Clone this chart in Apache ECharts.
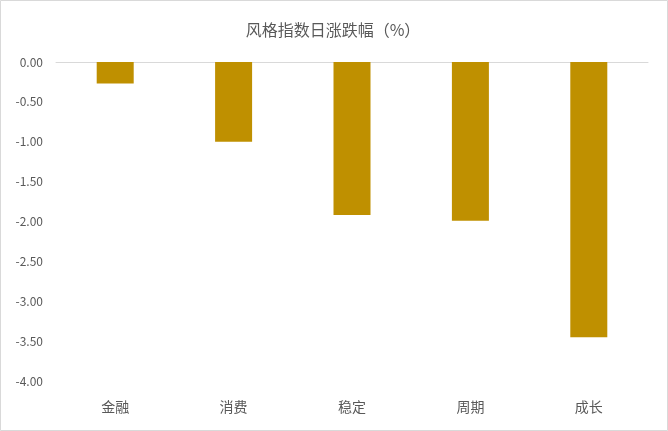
<!DOCTYPE html>
<html>
<head>
<meta charset="utf-8">
<script src="https://cdn.jsdelivr.net/npm/echarts@6/dist/echarts.min.js"></script>
<style>
html,body{margin:0;padding:0;background:#fff;}
#c{width:668px;height:431px;}
</style>
</head>
<body>
<div id="c"></div>
<script>
const titleText = '风格指数日涨跌幅（%）';
const categories = ['金融', '消费', '稳定', '周期', '成长'];
const values = [-0.27, -1.00, -1.92, -1.99, -3.45];
const yMin = -4, yMax = 0, yStep = 0.5;

const font = '"Noto Sans CJK SC", "Noto Sans", sans-serif';
const chart = echarts.init(document.getElementById('c'));
chart.setOption({
  animation: false,
  backgroundColor: '#ffffff',
  title: {
    text: titleText,
    left: 328,
    textAlign: 'center',
    top: 17,
    textStyle: {fontFamily: font, fontSize: 16, fontWeight: 'normal', color: '#595959'}
  },
  graphic: [{
    type: 'rect',
    shape: {x: 0.5, y: 0.5, width: 667, height: 430},
    style: {fill: 'none', stroke: '#d9d9d9', lineWidth: 1},
    silent: true
  }],
  grid: {left: 56, right: 20, top: 62, bottom: 50, containLabel: false},
  xAxis: [{
    type: 'category',
    data: categories,
    position: 'bottom',
    axisLine: {show: false, onZero: false},
    axisTick: {show: false},
    axisLabel: {fontFamily: font, fontSize: 14, color: '#595959', margin: 19}
  }, {
    type: 'category',
    data: categories,
    position: 'top',
    axisLine: {show: true, onZero: false, lineStyle: {color: '#d9d9d9', width: 1}},
    axisTick: {show: false},
    axisLabel: {show: false}
  }],
  yAxis: {
    type: 'value',
    min: yMin,
    max: yMax,
    interval: yStep,
    axisLine: {show: false},
    axisTick: {show: false},
    splitLine: {show: false},
    axisLabel: {
      fontFamily: font, fontSize: 12, color: '#595959', margin: 13,
      formatter: v => v.toFixed(2)
    }
  },
  series: [{
    type: 'bar',
    data: values,
    xAxisIndex: 0,
    barWidth: 37,
    itemStyle: {color: '#BF9000'}
  }]
});
</script>
</body>
</html>
